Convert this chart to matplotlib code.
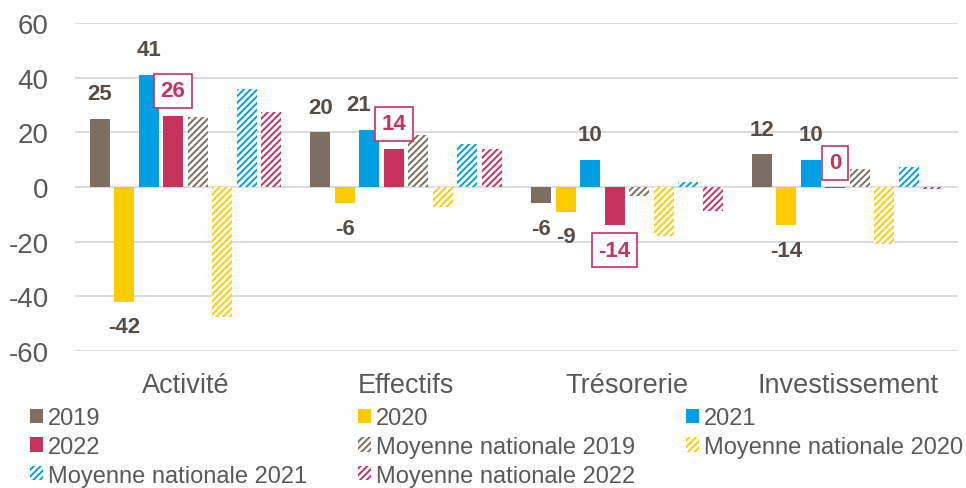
import matplotlib
matplotlib.use("Agg")
import matplotlib.pyplot as plt
from matplotlib.patches import Patch
import numpy as np

plt.rcParams['font.family'] = ['Liberation Sans', 'DejaVu Sans']
plt.rcParams['hatch.linewidth'] = 1.4
plt.rcParams['axes.unicode_minus'] = False

categories = ['Activité', 'Effectifs', 'Trésorerie', 'Investissement']
series_names = ['2019', '2020', '2021', '2022',
                'Moyenne nationale 2019', 'Moyenne nationale 2020',
                'Moyenne nationale 2021', 'Moyenne nationale 2022']

v2019 = [25, 20, -6, 12]
v2020 = [-42, -6, -9, -14]
v2021 = [41, 21, 10, 10]
v2022 = [26, 14, -14, -0.3]
nat2019 = [25.5, 19, -3.2, 6.6]
nat2020 = [-47.5, -7.3, -18, -21]
nat2021 = [36, 15.7, 2, 7.3]
nat2022 = [27.4, 13.9, -8.7, -0.8]

values = [v2019, v2020, v2021, v2022, nat2019, nat2020, nat2021, nat2022]
base_colors = ['#7b6f63', '#ffcc00', '#009fe3', '#c7325f']
colors = base_colors + base_colors
hatched = [False] * 4 + [True] * 4
labelled = [True, True, True, True, False, False, False, False]

label_col = '#574d47'
red = '#c7325f'

fig = plt.figure(figsize=(9.66, 4.89), dpi=100)
ax = fig.add_axes([0.0776, 0.2802, 0.9141, 0.6707])

x = np.arange(len(categories))
step = 0.111
width = 0.09
handles = []
for i, (name, vals) in enumerate(zip(series_names, values)):
    pos = x + (i - 3.5) * step
    if hatched[i]:
        ax.bar(pos, vals, width, facecolor='white', edgecolor=colors[i],
               hatch='/////', linewidth=0, zorder=3)
        handles.append(Patch(facecolor='white', edgecolor=colors[i], hatch='/////',
                             linewidth=0, label=name))
    else:
        ax.bar(pos, vals, width, color=colors[i], linewidth=0, zorder=3)
        handles.append(Patch(facecolor=colors[i], linewidth=0, label=name))
    if not labelled[i]:
        continue
    for j, (p, v) in enumerate(zip(pos, vals)):
        txt = str(int(round(v)))
        off = 18 if round(v) >= 0 else -18
        # the "21" label of Effectifs is pushed left to clear the boxed 14
        dx = -8 if (i == 2 and j == 1) else 0
        if i == 3:
            ax.annotate(txt, (p, v), xytext=(dx, off), textcoords='offset points',
                        ha='center', va='center', fontsize=16, fontweight='bold',
                        color=red, zorder=5,
                        bbox=dict(boxstyle='square,pad=0.3', facecolor='white',
                                  edgecolor=red, linewidth=1.2))
        else:
            ax.annotate(txt, (p, v), xytext=(dx, off), textcoords='offset points',
                        ha='center', va='center', fontsize=16, fontweight='bold',
                        color=label_col, zorder=5)

ax.set_xlim(-0.5, 3.5)
ax.set_ylim(-60, 60)
ax.set_yticks(range(-60, 61, 20))
ax.set_xticks(x)
ax.set_xticklabels(categories)
ax.tick_params(axis='both', length=0, colors='#595959')
ax.tick_params(axis='y', pad=19, labelsize=20)
ax.tick_params(axis='x', pad=15, labelsize=19.5)
ax.grid(axis='y', color='#d9d9d9', linewidth=1.3, zorder=0)
for s in ax.spines.values():
    s.set_visible(False)

order = [0, 3, 6, 1, 4, 7, 2, 5]
fig.legend([handles[k] for k in order], [series_names[k] for k in order],
           ncol=3, loc='upper left', bbox_to_anchor=(0.031, 0.165),
           frameon=False, fontsize=17, handlelength=0.55, handleheight=0.55,
           handletextpad=0.21, columnspacing=2.16, labelspacing=0.28,
           borderaxespad=0, borderpad=0, labelcolor='#595959')

fig.savefig('out.png', dpi=100)
